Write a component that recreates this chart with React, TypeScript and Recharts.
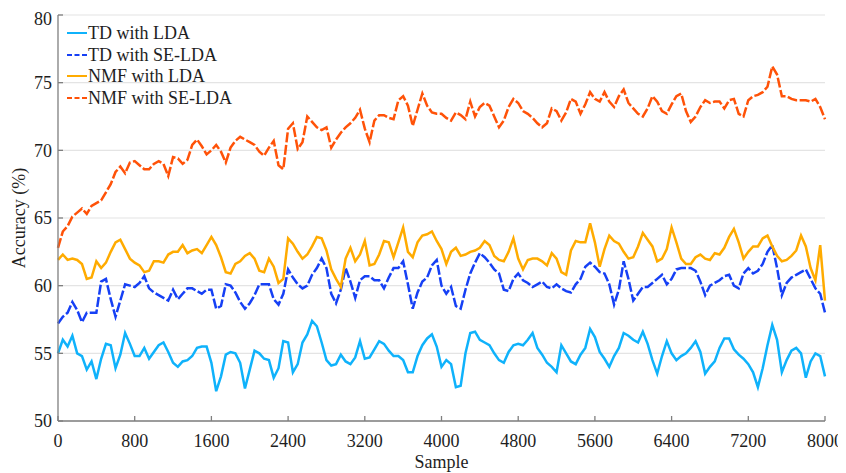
import React from 'react';
import { LineChart, Line, XAxis, YAxis, CartesianGrid, Legend } from 'recharts';

// sample index (every 50 samples, 0..8000)
const samples = Array.from({ length: 161 }, (_, i) => i * 50);

const tdLda = [
  55.0, 56.0, 55.5, 56.3, 55.0, 54.8, 53.8, 54.4, 53.1, 54.6,
  55.7, 55.6, 53.9, 54.9, 56.5, 55.7, 54.8, 54.8, 55.4, 54.6,
  55.1, 55.6, 55.8, 55.1, 54.3, 54.0, 54.4, 54.5, 54.8, 55.4,
  55.5, 55.5, 54.3, 52.2, 53.3, 54.9, 55.1, 55.0, 54.3, 52.4,
  53.8, 55.2, 55.0, 54.6, 54.5, 53.2, 53.9, 55.9, 55.8, 53.6,
  54.2, 55.8, 56.4, 57.4, 57.0, 55.8, 54.5, 54.1, 54.2, 54.9,
  54.4, 54.2, 54.7, 55.9, 54.6, 54.7, 55.3, 55.9, 55.7, 55.2,
  54.8, 54.8, 54.5, 53.6, 53.6, 54.8, 55.6, 56.1, 56.4, 55.5,
  54.0, 54.5, 54.2, 52.5, 52.6, 55.0, 56.5, 56.6, 56.0, 55.8,
  55.6, 55.0, 54.5, 54.3, 55.1, 55.6, 55.7, 55.6, 56.0, 56.5,
  55.4, 54.9, 54.3, 54.0, 53.6, 55.6, 55.0, 54.4, 54.2, 54.9,
  55.4, 56.8, 56.2, 55.1, 54.6, 54.0, 54.8, 55.4, 56.5, 56.3,
  56.0, 55.8, 56.6, 55.7, 54.5, 53.5, 54.8, 55.9, 55.0, 54.5,
  54.8, 55.0, 55.4, 55.9, 55.1, 53.5, 54.0, 54.4, 55.4, 56.1,
  56.1, 55.3, 54.9, 54.6, 54.2, 53.6, 52.5, 53.9, 55.6, 57.1,
  56.0, 53.6, 54.5, 55.2, 55.4, 55.0, 53.2, 54.4, 55.0, 54.8,
  53.3,
];

const tdSeLda = [
  57.2, 57.7, 58.0, 58.8, 58.2, 57.3, 58.0, 58.0, 58.0, 60.3,
  60.5, 59.0, 57.7, 58.9, 60.1, 60.0, 59.9, 60.2, 60.7, 59.8,
  59.5, 59.3, 59.1, 58.9, 59.7, 59.0, 59.4, 59.8, 59.8, 59.6,
  59.4, 59.7, 59.7, 58.3, 58.5, 60.1, 60.0, 59.5, 58.8, 58.3,
  58.7, 59.3, 60.1, 60.1, 60.1, 59.0, 58.6, 59.4, 61.2, 60.6,
  60.1, 59.8, 60.0, 60.8, 61.3, 62.0, 61.3, 59.4, 58.7, 59.7,
  61.3, 60.3, 59.1, 60.4, 60.7, 60.7, 60.4, 60.4, 59.8, 60.6,
  61.3, 61.3, 61.8, 60.1, 58.3, 59.5, 60.3, 60.6, 61.5, 61.9,
  60.0, 59.4, 59.9, 58.5, 58.3, 59.7, 60.9, 61.7, 62.4, 62.1,
  61.7, 61.2, 60.9, 59.7, 59.6, 60.5, 60.9, 60.4, 60.2, 59.9,
  60.1, 60.3, 59.9, 59.8, 60.1, 59.8, 59.6, 59.5, 60.1, 60.5,
  61.4, 61.7, 61.4, 61.0, 60.9, 60.1, 58.6, 59.7, 61.8, 60.5,
  58.9, 59.4, 59.9, 59.9, 60.2, 60.5, 60.8, 60.1, 60.5, 61.2,
  61.3, 61.3, 61.3, 61.1, 60.3, 59.3, 60.0, 60.2, 60.4, 60.7,
  60.8, 60.0, 59.8, 60.9, 61.3, 60.9, 61.1, 61.6, 62.5, 63.0,
  61.3, 59.3, 60.2, 60.6, 60.8, 61.0, 61.2, 60.5, 59.8, 59.4,
  58.0,
];

const nmfLda = [
  61.9, 62.3, 61.9, 62.0, 61.9, 61.6, 60.5, 60.6, 61.8, 61.3,
  61.7, 62.5, 63.2, 63.4, 62.7, 62.0, 61.7, 61.5, 61.0, 61.1,
  61.8, 61.8, 61.7, 62.3, 62.5, 62.5, 63.0, 62.4, 62.6, 62.7,
  62.4, 63.0, 63.6, 63.0, 62.1, 61.0, 60.9, 61.6, 61.8, 62.2,
  62.4, 62.0, 61.1, 61.0, 62.0, 61.4, 60.2, 60.5, 63.5, 63.1,
  62.5, 62.0, 62.3, 62.9, 63.6, 63.5, 62.6, 61.2, 60.5, 59.9,
  62.0, 62.8, 61.8, 62.3, 63.3, 61.5, 61.6, 62.3, 63.3, 63.2,
  62.1, 63.2, 64.3, 62.5, 62.1, 63.2, 63.7, 63.8, 64.0, 63.3,
  62.7, 61.6, 62.5, 62.8, 62.2, 62.3, 62.5, 62.6, 62.8, 63.3,
  63.0, 62.2, 61.9, 61.8, 62.5, 63.5, 62.0, 61.2, 61.9, 62.0,
  62.0, 61.8, 61.5, 62.4, 62.0, 61.0, 60.8, 62.6, 63.3, 63.2,
  63.2, 64.6, 63.2, 61.4, 62.7, 63.7, 63.3, 63.1, 62.5, 62.0,
  62.1, 62.9, 63.9, 63.4, 62.9, 61.8, 62.0, 62.7, 64.3, 63.2,
  62.0, 61.6, 61.6, 62.1, 62.3, 62.0, 61.9, 62.4, 62.3, 62.8,
  63.6, 64.2, 63.2, 62.0, 62.5, 62.9, 62.9, 63.5, 63.7, 62.9,
  62.2, 61.8, 61.9, 62.2, 62.6, 63.7, 62.9, 61.3, 60.4, 63.0,
  58.9,
];

const nmfSeLda = [
  62.8, 64.0, 64.4, 65.1, 65.4, 65.7, 65.3, 65.9, 66.1, 66.3,
  66.9, 67.5, 68.4, 68.8, 68.3, 69.1, 69.2, 68.9, 68.6, 68.6,
  69.0, 69.2, 69.0, 68.1, 69.5, 69.4, 69.0, 69.3, 70.4, 70.8,
  70.3, 69.7, 70.0, 70.4, 69.9, 69.1, 70.2, 70.7, 71.0, 70.8,
  70.6, 70.4, 69.9, 69.6, 70.2, 70.7, 68.9, 68.6, 71.6, 72.0,
  70.1, 70.6, 72.5, 72.1, 71.7, 71.5, 71.7, 70.2, 70.8, 71.3,
  71.7, 72.0, 72.4, 73.0, 71.6, 70.6, 72.2, 72.6, 72.6, 72.4,
  72.3, 73.7, 74.0, 73.3, 71.8, 73.0, 74.2, 73.3, 72.8, 72.7,
  72.7, 72.4, 72.2, 72.8, 72.6, 72.3, 73.6, 72.5, 73.2, 73.5,
  73.3, 72.5, 71.7, 72.2, 73.2, 73.8, 73.5, 72.9, 72.7, 72.4,
  72.0, 71.7, 72.0, 73.1, 72.9, 72.2, 72.8, 73.8, 73.6, 72.7,
  73.4, 74.3, 73.8, 73.6, 74.3, 73.6, 73.2, 74.0, 74.5, 73.5,
  73.1, 72.7, 72.5, 73.1, 74.0, 73.6, 72.9, 72.7, 73.4, 74.0,
  74.2, 72.9, 72.1, 72.5, 73.2, 73.7, 73.5, 73.6, 73.6, 73.1,
  73.7, 73.8, 72.7, 72.5, 73.7, 74.0, 74.1, 74.3, 74.7, 76.2,
  75.6, 74.0, 74.0, 73.8, 73.7, 73.7, 73.7, 73.6, 73.8, 73.2,
  72.3,
];

const xTicks = [0, 800, 1600, 2400, 3200, 4000, 4800, 5600, 6400, 7200, 8000];
const yTicks = [50, 55, 60, 65, 70, 75, 80];

const seriesKeys = ['tdLda', 'tdSeLda', 'nmfLda', 'nmfSeLda'];
const seriesNames = ['TD with LDA', 'TD with SE-LDA', 'NMF with LDA', 'NMF with SE-LDA'];
const seriesColors = ['#0fb2fb', '#1640f5', '#ffab00', '#ff5208'];
const seriesDash = [undefined, '10 2.5', undefined, '10 2.5'];
const legendDash = [undefined, '5 2.5', undefined, '5 2.5'];

const data = samples.map((s, i) => ({
  sample: s,
  tdLda: tdLda[i],
  tdSeLda: tdSeLda[i],
  nmfLda: nmfLda[i],
  nmfSeLda: nmfSeLda[i],
}));

const FONT = 'serif';
const TEXT = '#1e1e1e';
const AXIS = '#7f7f7f';

function LegendBox() {
  return (
    <div style={{ fontFamily: FONT }}>
      {seriesNames.map((name, i) => (
        <div key={name} style={{ height: 21.7, display: 'flex', alignItems: 'center' }}>
          <svg width={21} height={4} style={{ display: 'block' }}>
            <line x1={0} y1={2} x2={20} y2={2} stroke={seriesColors[i]} strokeWidth={2}
              strokeDasharray={legendDash[i]} />
          </svg>
          <span style={{ fontSize: 18, color: TEXT, lineHeight: 1 }}>{name}</span>
        </div>
      ))}
    </div>
  );
}

export default function App() {
  return (
    <div style={{ fontFamily: FONT }}>
      <LineChart width={838} height={465} data={data}
        margin={{ top: 7, right: 21, bottom: 0, left: 0 }}>
        <CartesianGrid horizontal vertical={false} stroke="#e4e4e4" strokeWidth={1.2} />
        <XAxis dataKey="sample" type="number" domain={[0, 8000]} ticks={xTicks}
          height={52} tickSize={-5} tickMargin={18}
          axisLine={{ stroke: AXIS, strokeWidth: 1.3 }} tickLine={{ stroke: AXIS, strokeWidth: 1.3 }}
          tick={{ fill: TEXT, fontSize: 18, fontFamily: FONT }}
          label={{ value: 'Sample', position: 'insideBottom', offset: 5, fill: TEXT, fontSize: 18, fontFamily: FONT }} />
        <YAxis type="number" domain={[50, 80]} ticks={yTicks} width={50}
          tickSize={-5} tickMargin={11}
          axisLine={{ stroke: AXIS, strokeWidth: 1.3 }} tickLine={{ stroke: AXIS, strokeWidth: 1.3 }}
          tick={{ fill: TEXT, fontSize: 18, fontFamily: FONT }}
          label={{ value: 'Accuracy (%)', angle: -90, position: 'insideLeft', offset: 11, fill: TEXT, fontSize: 18, fontFamily: FONT, style: { textAnchor: 'middle' } }} />
        <Legend layout="vertical" align="center" verticalAlign="middle"
          content={<LegendBox />}
          wrapperStyle={{ left: 59, top: 14, width: 260, height: 90 }} />
        {seriesKeys.map((k, i) => (
          <Line key={k} dataKey={k} name={seriesNames[i]} type="linear"
            stroke={seriesColors[i]} strokeWidth={2.5} strokeDasharray={seriesDash[i]}
            dot={false} activeDot={false} isAnimationActive={false} />
        ))}
      </LineChart>
    </div>
  );
}
